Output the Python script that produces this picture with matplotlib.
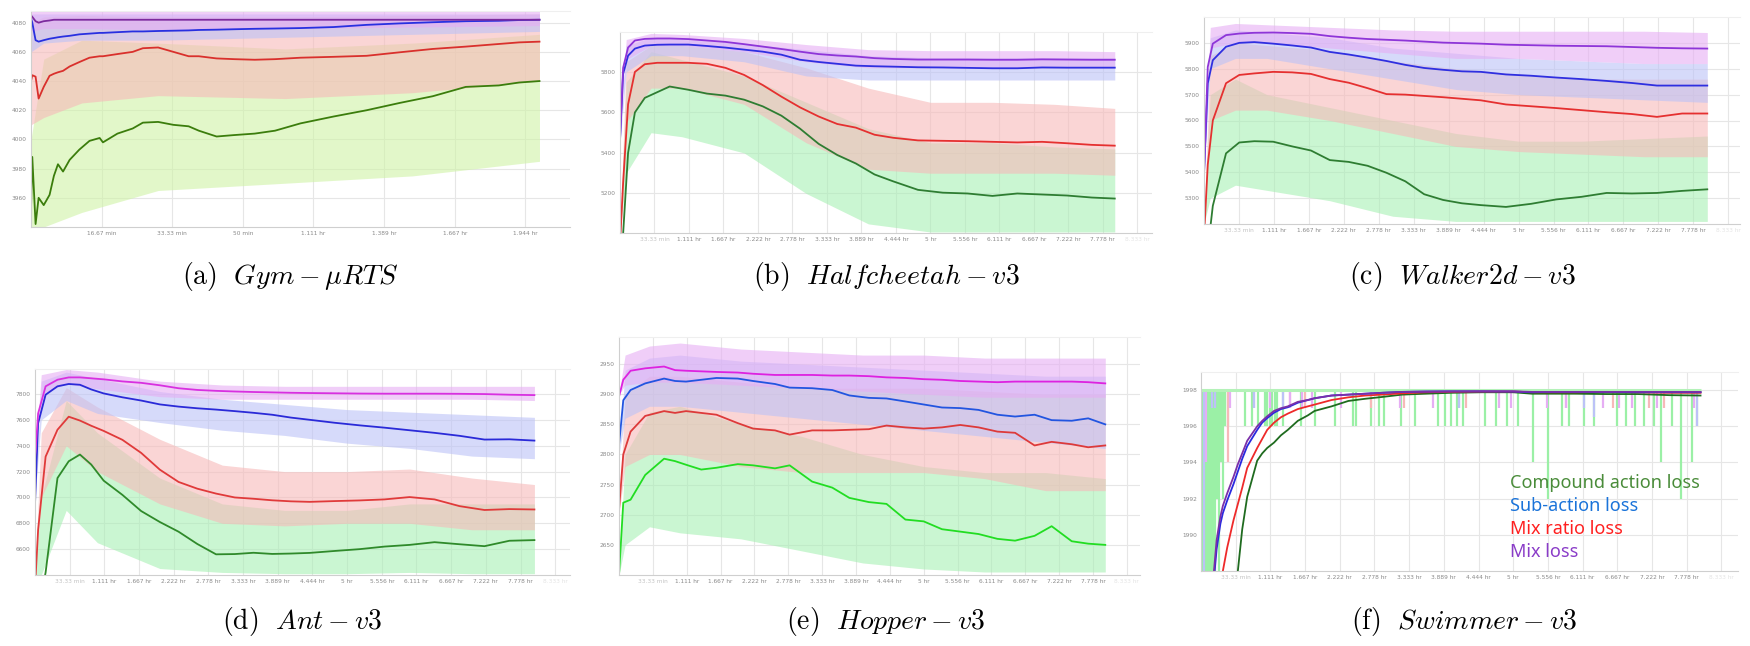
import matplotlib
matplotlib.use('Agg')
import matplotlib.pyplot as plt

plt.rcParams['mathtext.fontset'] = 'cm'
plt.rcParams['font.family'] = ['DejaVu Sans']

# ---------------- (a) Gym-muRTS ----------------
a_x = [0, 0.005, 0.018, 0.03, 0.05, 0.073, 0.09, 0.106, 0.126, 0.152, 0.19, 0.23, 0.27, 0.283, 0.34, 0.4, 0.44,
       0.5, 0.56, 0.62, 0.66, 0.73, 0.8, 0.88, 0.96, 1.06, 1.19, 1.32, 1.45, 1.58, 1.71, 1.84, 1.92, 2.0]
a_green = [3952, 3988, 3942, 3960, 3955, 3962, 3975, 3983, 3978, 3986, 3993, 3999, 4001, 3998, 4004, 4007.5, 4011.5,
           4012, 4010, 4009, 4006, 4002, 4003, 4004, 4006, 4011, 4015.7, 4020, 4025, 4029.6, 4036, 4037, 4039, 4040]
a_red = [4040, 4044, 4043, 4028, 4036, 4043.6, 4045, 4046, 4047, 4050, 4053, 4056, 4057, 4057, 4058.5, 4060, 4062.5,
         4063, 4060, 4057, 4057, 4055.5, 4055, 4054.6, 4055, 4056, 4056.6, 4057.3, 4059.7, 4062, 4063.6, 4065.4, 4066.5, 4067]
a_blue = [4083, 4080, 4068, 4067, 4068, 4069, 4069.5, 4070, 4070.5, 4071, 4072, 4072.5, 4073, 4073, 4073.5, 4074, 4074,
          4074.3, 4074.5, 4074.7, 4075, 4075.2, 4075.5, 4075.8, 4076, 4076.3, 4077, 4078.5, 4079.5, 4080.3, 4081, 4081.3, 4081.8, 4082]
a_purple = [4085, 4084, 4081, 4080, 4081, 4081.5, 4082, 4082, 4082, 4082, 4082, 4082, 4082, 4082, 4082, 4082, 4082,
            4082, 4082, 4082, 4082, 4082, 4082, 4082, 4082, 4082, 4082, 4082, 4082, 4082, 4082, 4082, 4082, 4082]
a_raw_x = [0, 0.05, 0.2, 0.5, 1.0, 1.5, 2.0]
a_green_hi = [4000, 4055, 4068, 4066, 4062, 4066, 4072]
a_green_lo = [3940, 3940, 3950, 3965, 3970, 3975, 3985]
a_red_hi = [4080, 4084, 4085, 4084, 4084, 4085, 4086]
a_red_lo = [4010, 4015, 4025, 4030, 4028, 4032, 4040]
a_blue_hi = [4086, 4086, 4086, 4086, 4086, 4086, 4086]
a_blue_lo = [4060, 4066, 4068, 4068, 4070, 4072, 4074]
a_purple_hi = [4088, 4088, 4088, 4088, 4088, 4088, 4088]
a_purple_lo = [4074, 4076, 4076, 4075, 4076, 4077, 4078]
a_xticks = [0.2778, 0.5556, 0.8333, 1.1111, 1.3889, 1.6667, 1.9444]
a_xlabels = ['16.67 min', '33.33 min', '50 min', '1.111 hr', '1.389 hr', '1.667 hr', '1.944 hr']
a_yticks = [3960, 3980, 4000, 4020, 4040, 4060, 4080]

# ---------------- (b) Halfcheetah-v3 ----------------
b_x = [0, 0.05, 0.13, 0.24, 0.4, 0.6, 0.8, 1.1, 1.4, 1.7, 2.0, 2.3, 2.6, 2.9, 3.2, 3.5, 3.8, 4.1, 4.4, 4.8,
       5.2, 5.6, 6.0, 6.4, 6.8, 7.2, 7.6, 7.97]
b_purple = [5470, 5820, 5920, 5955, 5963, 5965, 5965, 5962, 5955, 5948, 5937, 5925, 5913, 5900, 5888, 5881, 5876,
            5868, 5864, 5861, 5861, 5861, 5860, 5860, 5862, 5861, 5860, 5860]
b_blue = [5460, 5790, 5880, 5915, 5930, 5934, 5935, 5935, 5928, 5920, 5910, 5900, 5885, 5860, 5849, 5840, 5831,
          5828, 5826, 5823, 5822, 5820, 5818, 5818, 5822, 5821, 5821, 5821]
b_red = [4950, 5250, 5640, 5800, 5838, 5845, 5845, 5845, 5840, 5820, 5785, 5735, 5678, 5625, 5580, 5543, 5525,
         5490, 5475, 5462, 5460, 5458, 5455, 5452, 5455, 5448, 5440, 5436]
b_green = [4900, 5000, 5400, 5600, 5672, 5700, 5728, 5712, 5693, 5683, 5663, 5630, 5584, 5520, 5445, 5390, 5348,
           5294, 5260, 5218, 5204, 5200, 5188, 5200, 5195, 5190, 5180, 5175]
b_raw_x = [0, 0.1, 0.5, 1.0, 2.0, 3.0, 4.0, 5.0, 6.0, 7.0, 7.97]
b_green_hi = [5000, 5750, 5900, 5860, 5780, 5650, 5520, 5450, 5450, 5430, 5420]
b_green_lo = [5000, 5300, 5500, 5480, 5400, 5200, 5050, 5010, 5010, 5010, 5010]
b_red_hi = [5000, 5850, 5930, 5930, 5900, 5820, 5720, 5650, 5650, 5640, 5620]
b_red_lo = [5000, 5550, 5720, 5720, 5640, 5450, 5320, 5300, 5300, 5300, 5290]
b_blue_hi = [5450, 5930, 5970, 5960, 5940, 5910, 5880, 5870, 5870, 5870, 5870]
b_blue_lo = [5450, 5800, 5880, 5880, 5850, 5780, 5760, 5760, 5760, 5760, 5760]
b_purple_hi = [5500, 5960, 5990, 5985, 5965, 5935, 5910, 5905, 5905, 5905, 5900]
b_purple_lo = [5500, 5860, 5930, 5930, 5900, 5850, 5820, 5820, 5820, 5820, 5820]
b_yticks = [5200, 5400, 5600, 5800]

# ---------------- (c) Walker2d-v3 ----------------
c_x = [0, 0.06, 0.14, 0.35, 0.56, 0.8, 1.1, 1.4, 1.7, 2.0, 2.3, 2.6, 2.9, 3.2, 3.5, 3.8, 4.1, 4.4, 4.8, 5.2,
       5.6, 6.0, 6.4, 6.8, 7.2, 7.6, 8.0]
c_purple = [5390, 5807, 5897, 5930, 5936, 5939, 5940, 5938, 5935, 5926, 5920, 5915, 5912, 5909, 5905, 5901, 5899,
            5897, 5893, 5891, 5889, 5888, 5887, 5884, 5881, 5879, 5878]
c_blue = [5397, 5744, 5833, 5885, 5900, 5903, 5897, 5890, 5882, 5865, 5855, 5843, 5830, 5815, 5803, 5796, 5790,
          5788, 5778, 5773, 5766, 5760, 5753, 5745, 5735, 5735, 5735]
c_red = [5150, 5430, 5600, 5744, 5776, 5782, 5788, 5786, 5780, 5760, 5746, 5725, 5702, 5700, 5695, 5690, 5684,
         5678, 5662, 5655, 5648, 5640, 5632, 5625, 5614, 5627, 5627]
c_green = [5000, 5100, 5270, 5473, 5515, 5520, 5518, 5500, 5484, 5447, 5440, 5425, 5398, 5365, 5315, 5293, 5280,
           5273, 5266, 5278, 5295, 5305, 5320, 5318, 5320, 5328, 5334]
c_raw_x = [0, 0.1, 0.5, 1.0, 2.0, 3.0, 4.0, 5.0, 6.0, 7.0, 8.0]
c_green_hi = [5200, 5700, 5760, 5700, 5650, 5600, 5550, 5520, 5520, 5530, 5540]
c_green_lo = [5200, 5300, 5350, 5330, 5290, 5230, 5210, 5210, 5210, 5210, 5210]
c_red_hi = [5200, 5850, 5900, 5890, 5870, 5830, 5800, 5780, 5760, 5760, 5760]
c_red_lo = [5200, 5600, 5640, 5640, 5600, 5550, 5500, 5480, 5470, 5460, 5460]
c_blue_hi = [5400, 5920, 5950, 5940, 5920, 5880, 5860, 5840, 5830, 5820, 5820]
c_blue_lo = [5400, 5800, 5840, 5840, 5800, 5760, 5720, 5700, 5690, 5680, 5670]
c_purple_hi = [5400, 5960, 5975, 5970, 5960, 5950, 5945, 5945, 5945, 5945, 5940]
c_purple_lo = [5400, 5880, 5900, 5900, 5880, 5860, 5840, 5840, 5830, 5820, 5820]
c_yticks = [5300, 5400, 5500, 5600, 5700, 5800, 5900]

# ---------------- (d) Ant-v3 ----------------
d_x = [0, 0.05, 0.17, 0.36, 0.54, 0.72, 0.9, 1.1, 1.4, 1.7, 2.0, 2.3, 2.6, 2.9, 3.2, 3.5, 3.8, 4.1, 4.4, 4.8,
       5.2, 5.6, 6.0, 6.4, 6.8, 7.2, 7.6, 8.0]
d_purple = [7300, 7650, 7860, 7911, 7929, 7929, 7922, 7914, 7898, 7887, 7868, 7845, 7832, 7825, 7820, 7816, 7813,
            7810, 7808, 7806, 7804, 7803, 7803, 7803, 7802, 7800, 7795, 7792]
d_blue = [6950, 7575, 7795, 7860, 7878, 7872, 7836, 7805, 7775, 7750, 7720, 7703, 7690, 7680, 7668, 7655, 7640,
          7618, 7601, 7578, 7558, 7540, 7520, 7500, 7477, 7448, 7450, 7440]
d_red = [6300, 6750, 7316, 7524, 7625, 7595, 7555, 7515, 7446, 7345, 7215, 7120, 7068, 7030, 7000, 6990, 6978,
         6970, 6966, 6972, 6977, 6985, 7003, 6985, 6933, 6903, 6910, 6907]
d_green = [6000, 6100, 6420, 7150, 7280, 7332, 7255, 7130, 7020, 6895, 6810, 6735, 6640, 6560, 6562, 6572, 6563,
           6566, 6571, 6586, 6600, 6620, 6633, 6654, 6638, 6623, 6665, 6670]
d_raw_x = [0, 0.1, 0.5, 1.0, 2.0, 3.0, 4.0, 5.0, 6.0, 7.0, 8.0]
d_green_hi = [6400, 7000, 7750, 7500, 7150, 6950, 6900, 6900, 6950, 6950, 6950]
d_green_lo = [6400, 6400, 6900, 6650, 6450, 6420, 6410, 6410, 6420, 6410, 6410]
d_red_hi = [6400, 7500, 7850, 7700, 7450, 7250, 7200, 7200, 7220, 7150, 7100]
d_red_lo = [6400, 7000, 7400, 7200, 6950, 6800, 6780, 6800, 6800, 6750, 6750]
d_blue_hi = [7000, 7900, 7970, 7920, 7820, 7760, 7720, 7680, 7660, 7640, 7620]
d_blue_lo = [7000, 7600, 7750, 7650, 7580, 7520, 7480, 7420, 7380, 7320, 7300]
d_purple_hi = [7300, 7950, 7990, 7970, 7900, 7870, 7860, 7860, 7860, 7860, 7860]
d_purple_lo = [7300, 7800, 7880, 7840, 7780, 7760, 7760, 7760, 7760, 7760, 7750]
d_yticks = [6600, 6800, 7000, 7200, 7400, 7600, 7800]

# ---------------- (e) Hopper-v3 ----------------
e_x = [0, 0.07, 0.19, 0.43, 0.74, 0.92, 1.1, 1.35, 1.6, 1.95, 2.2, 2.56, 2.8, 3.17, 3.5, 3.78, 4.1, 4.39, 4.7, 5.0,
       5.3, 5.6, 5.9, 6.21, 6.5, 6.82, 7.1, 7.43, 7.7, 7.98]
e_purple = [2896, 2924, 2939, 2943, 2946, 2940, 2939, 2938, 2937, 2936, 2934, 2932, 2932, 2932, 2931, 2931, 2930,
            2928, 2927, 2925, 2924, 2922, 2921, 2920, 2921, 2921, 2921, 2921, 2920, 2918]
e_blue = [2815, 2890, 2907, 2918, 2926, 2922, 2921, 2924, 2927, 2926, 2922, 2917, 2911, 2910, 2907, 2898, 2894,
          2893, 2888, 2883, 2878, 2877, 2874, 2866, 2863, 2866, 2857, 2856, 2860, 2850]
e_red = [2708, 2800, 2838, 2864, 2872, 2869, 2872, 2869, 2866, 2852, 2843, 2840, 2833, 2840, 2840, 2841, 2842,
         2848, 2845, 2843, 2845, 2849, 2845, 2838, 2836, 2815, 2821, 2817, 2812, 2815]
e_green = [2600, 2720, 2725, 2766, 2793, 2789, 2783, 2775, 2778, 2784, 2782, 2777, 2782, 2755, 2745, 2728, 2721,
           2718, 2692, 2689, 2676, 2672, 2668, 2660, 2657, 2665, 2681, 2656, 2652, 2650]
e_raw_x = [0, 0.1, 0.5, 1.0, 2.0, 3.0, 4.0, 5.0, 6.0, 7.0, 7.98]
e_green_hi = [2600, 2800, 2870, 2880, 2850, 2830, 2800, 2780, 2770, 2770, 2760]
e_green_lo = [2600, 2650, 2680, 2670, 2660, 2640, 2620, 2610, 2605, 2605, 2605]
e_red_hi = [2700, 2900, 2930, 2930, 2920, 2910, 2910, 2910, 2905, 2900, 2900]
e_red_lo = [2700, 2780, 2800, 2800, 2780, 2770, 2770, 2770, 2760, 2740, 2740]
e_blue_hi = [2800, 2940, 2960, 2965, 2955, 2950, 2945, 2940, 2935, 2930, 2930]
e_blue_lo = [2800, 2860, 2880, 2880, 2870, 2860, 2850, 2840, 2830, 2820, 2810]
e_purple_hi = [2900, 2965, 2980, 2985, 2975, 2970, 2965, 2965, 2960, 2960, 2960]
e_purple_lo = [2900, 2915, 2920, 2920, 2915, 2910, 2905, 2900, 2895, 2895, 2895]
e_yticks = [2650, 2700, 2750, 2800, 2850, 2900, 2950]

# ---------------- (f) Swimmer-v3 ----------------
f_x = [0, 0.2, 0.25, 0.31, 0.35, 0.42, 0.52, 0.59, 0.66, 0.74, 0.9, 0.98, 1.06, 1.17, 1.28, 1.39, 1.55, 1.71,
       1.82, 2.09, 2.36, 2.63, 2.9, 3.22, 3.6, 4.0, 4.5, 5.0, 5.3, 5.6, 6.0, 6.5, 7.0, 7.5, 8.0]
f_purple = [1984, 1987.7, 1989.7, 1991.0, 1991.6, 1992.3, 1993.2, 1993.9, 1994.5, 1995.2, 1996.0, 1996.3, 1996.55,
            1996.85, 1997.0, 1997.1, 1997.35, 1997.45, 1997.55, 1997.7, 1997.75, 1997.8, 1997.85, 1997.9, 1997.92,
            1997.93, 1997.93, 1997.93, 1997.9, 1997.9, 1997.9, 1997.9, 1997.9, 1997.9, 1997.9]
f_blue = [1984, 1987.3, 1989.2, 1990.6, 1991.2, 1991.9, 1992.8, 1993.5, 1994.2, 1994.9, 1995.8, 1996.2, 1996.45,
          1996.75, 1996.95, 1997.05, 1997.3, 1997.45, 1997.55, 1997.7, 1997.75, 1997.8, 1997.85, 1997.9, 1997.92,
          1997.93, 1997.93, 1997.92, 1997.88, 1997.9, 1997.9, 1997.9, 1997.88, 1997.88, 1997.88]
f_red = [1980, 1985, 1986, 1987.2, 1988.0, 1989.3, 1990.8, 1991.7, 1992.6, 1993.7, 1994.8, 1995.3, 1995.8, 1996.2,
         1996.5, 1996.7, 1996.95, 1997.1, 1997.2, 1997.45, 1997.6, 1997.7, 1997.75, 1997.82, 1997.88, 1997.9,
         1997.92, 1997.92, 1997.88, 1997.88, 1997.88, 1997.9, 1997.88, 1997.85, 1997.85]
f_green = [1975, 1980, 1982, 1984, 1985, 1986, 1987.3, 1988.0, 1990.3, 1992.1, 1994.1, 1994.5, 1994.8, 1995.1,
           1995.5, 1995.8, 1996.3, 1996.6, 1996.85, 1997.1, 1997.4, 1997.52, 1997.62, 1997.75, 1997.8, 1997.85,
           1997.88, 1997.88, 1997.8, 1997.8, 1997.8, 1997.78, 1997.78, 1997.72, 1997.7]
f_raw_top = 1998
f_raw_end = 8.0
f_green_spike_x = [0.01, 0.04, 0.07, 0.10, 0.13, 0.16, 0.19, 0.22, 0.26, 0.29, 0.32, 0.35, 0.38, 0.43, 0.7, 0.82,
                   0.92, 1.02, 1.06, 1.1, 1.14, 1.18, 1.22, 1.32, 1.6, 1.83, 2.15, 2.43, 2.49, 2.72, 2.85, 2.93, 3.2,
                   3.43, 3.8, 3.9, 4.0, 4.1, 4.2, 4.55, 4.72, 4.9, 5.07, 5.32, 5.56, 5.78, 5.9, 6.13, 6.3, 6.67, 6.8,
                   6.95, 7.1, 7.25, 7.36, 7.55, 7.69, 7.86, 7.95]
f_green_spike_y = [1988, 1988, 1988, 1988, 1988, 1988, 1988, 1988, 1992, 1988, 1994, 1992, 1996, 1996, 1996, 1996,
                   1996, 1996, 1996, 1996, 1996, 1996, 1996, 1996, 1996, 1996, 1996, 1996, 1996, 1996, 1996, 1996,
                   1996, 1996, 1996, 1996, 1996, 1996, 1996, 1996, 1996, 1996, 1996, 1994, 1992, 1996, 1996, 1996,
                   1996, 1996, 1996, 1996, 1996, 1996, 1994, 1996, 1992, 1994, 1996]
f_purple_spike_x = [0.08, 0.47, 0.85, 1.11, 1.43, 1.61, 1.78, 2.25, 3.19, 3.72, 4.13, 4.78, 4.96, 5.54, 5.84, 6.43,
                    6.7, 6.9, 7.3, 7.9]
f_purple_spike_y = [1994, 1997, 1997, 1997, 1997, 1997, 1997, 1997, 1997, 1997, 1997, 1997, 1997, 1997, 1997, 1997,
                    1997, 1997, 1997, 1997]
f_blue_spike_x = [0.05, 0.17, 0.23, 0.85, 1.32, 4.13, 6.13, 6.3, 7.95]
f_blue_spike_y = [1988, 1997, 1997, 1997, 1997, 1997, 1997, 1996.5, 1996]
f_red_spike_x = [0.43, 1.43, 1.67, 2.72, 3.25, 4.25, 5.84, 6.6, 7.18, 7.42]
f_red_spike_y = [1994, 1997, 1997, 1997, 1997, 1997, 1997, 1997, 1997, 1997]
f_yticks = [1990, 1992, 1994, 1996, 1998]

long_xticks = [0.5556, 1.1111, 1.6667, 2.2222, 2.7778, 3.3333, 3.8889, 4.4444, 5.0, 5.5556, 6.1111, 6.6667,
               7.2222, 7.7778, 8.3333]
long_xlabels = ['33.33 min', '1.111 hr', '1.667 hr', '2.222 hr', '2.778 hr', '3.333 hr', '3.889 hr', '4.444 hr',
                '5 hr', '5.556 hr', '6.111 hr', '6.667 hr', '7.222 hr', '7.778 hr', '8.333 hr']

legend_labels = ['Compound action loss', 'Sub-action loss', 'Mix ratio loss', 'Mix loss']
legend_colors = ['#4a8c3a', '#1a73d9', '#ff2020', '#8a3cc8']

captions = [r'$\mathrm{(a)}\ \ Gym-\mu RTS$', r'$\mathrm{(b)}\ \ Halfcheetah-v3$', r'$\mathrm{(c)}\ \ Walker2d-v3$',
            r'$\mathrm{(d)}\ \ Ant-v3$', r'$\mathrm{(e)}\ \ Hopper-v3$', r'$\mathrm{(f)}\ \ Swimmer-v3$']

W, H = 1750, 646
fig = plt.figure(figsize=(17.5, 6.46), dpi=100)


def make_ax(l, r, t, b):
    return fig.add_axes([l / W, 1 - b / H, (r - l) / W, (b - t) / H])


def style(ax, xticks, xlabels, yticks, ylim, xmax, faint=True):
    ax.set_xlim(0, xmax)
    ax.set_ylim(*ylim)
    ax.set_xticks(xticks)
    ax.set_xticklabels(xlabels)
    ax.set_yticks(yticks)
    ax.set_yticklabels([str(v) for v in yticks])
    ax.tick_params(length=0, labelsize=4.2, labelcolor='#8a8a8a', pad=3)
    ax.grid(True, color='#e6e6e6', lw=0.8)
    ax.set_axisbelow(True)
    for s in ['right']:
        ax.spines[s].set_visible(False)
    ax.spines['top'].set_color('#efefef')
    ax.spines['left'].set_color('#cfcfcf')
    ax.spines['bottom'].set_color('#cfcfcf')
    if faint:
        labs = ax.get_xticklabels()
        labs[0].set_color('#c4c4c4')
        labs[-1].set_color('#e4e4e4')


def bands(ax, rx, bands_list):
    for lo, hi, col in bands_list:
        ax.fill_between(rx, lo, hi, color=col, alpha=0.6, lw=0)


def lines(ax, x, series):
    for y, col in series:
        ax.plot(x, y, color=col, lw=1.3)


raw_green = '#a8f0b4'
raw_red = '#f7b9b9'
raw_blue = '#bcc2f7'
raw_purple = '#e6aef4'

# (a)
ax = make_ax(31, 570, 11, 227)
bands(ax, a_raw_x, [(a_green_lo, a_green_hi, '#cff3a6'), (a_red_lo, a_red_hi, raw_red),
                    (a_blue_lo, a_blue_hi, raw_blue), (a_purple_lo, a_purple_hi, raw_purple)])
lines(ax, a_x, [(a_green, '#3b7d0c'), (a_red, '#d9302c'), (a_blue, '#2830e0'), (a_purple, '#7d2a9e')])
style(ax, a_xticks, a_xlabels, a_yticks, (3940, 4088), 2.12, faint=False)

# (b)
ax = make_ax(620, 1152, 32, 233)
bands(ax, b_raw_x, [(b_green_lo, b_green_hi, raw_green), (b_red_lo, b_red_hi, raw_red),
                    (b_blue_lo, b_blue_hi, raw_blue), (b_purple_lo, b_purple_hi, raw_purple)])
lines(ax, b_x, [(b_green, '#2e7d32'), (b_red, '#e53030'), (b_blue, '#2f2fe0'), (b_purple, '#8e35d8')])
style(ax, long_xticks, long_xlabels, b_yticks, (5005, 5997), 8.57)

# (c)
ax = make_ax(1204, 1740, 17, 224)
bands(ax, c_raw_x, [(c_green_lo, c_green_hi, raw_green), (c_red_lo, c_red_hi, raw_red),
                    (c_blue_lo, c_blue_hi, raw_blue), (c_purple_lo, c_purple_hi, raw_purple)])
lines(ax, c_x, [(c_green, '#2e7d32'), (c_red, '#e53030'), (c_blue, '#2f2fe0'), (c_purple, '#8e35d8')])
style(ax, long_xticks, long_xlabels, c_yticks, (5200, 6000), 8.52)

# (d)
ax = make_ax(35, 570, 369, 575)
bands(ax, d_raw_x, [(d_green_lo, d_green_hi, raw_green), (d_red_lo, d_red_hi, raw_red),
                    (d_blue_lo, d_blue_hi, raw_blue), (d_purple_lo, d_purple_hi, raw_purple)])
lines(ax, d_x, [(d_green, '#2f8a2a'), (d_red, '#e03a3a'), (d_blue, '#2a2ad8'), (d_purple, '#d830e0')])
style(ax, long_xticks, long_xlabels, d_yticks, (6400, 7994), 8.57)

# (e)
ax = make_ax(619, 1140, 337, 575)
bands(ax, e_raw_x, [(e_green_lo, e_green_hi, raw_green), (e_red_lo, e_red_hi, raw_red),
                    (e_blue_lo, e_blue_hi, raw_blue), (e_purple_lo, e_purple_hi, raw_purple)])
lines(ax, e_x, [(e_green, '#22dd22'), (e_red, '#dd3a3a'), (e_blue, '#2255e0'), (e_purple, '#dd22e0')])
style(ax, long_xticks, long_xlabels, e_yticks, (2600, 2995), 8.55)

# (f)
ax = make_ax(1201, 1738, 372, 571)
ax.vlines(f_green_spike_x, f_green_spike_y, f_raw_top, color='#9bf0a6', lw=1.6)
ax.vlines(f_red_spike_x, f_red_spike_y, f_raw_top, color=raw_red, lw=1.6)
ax.vlines(f_purple_spike_x, f_purple_spike_y, f_raw_top, color=raw_purple, lw=1.6)
ax.vlines(f_blue_spike_x, f_blue_spike_y, f_raw_top, color=raw_blue, lw=1.6)
ax.hlines(f_raw_top, 0, f_raw_end, color='#b4f2b8', lw=2.2)
lines(ax, f_x, [(f_green, '#1f6b1f'), (f_red, '#ee2a2a'), (f_blue, '#2a2ae0'), (f_purple, '#7b2fa8')])
style(ax, long_xticks, long_xlabels, f_yticks, (1988, 1999), 8.6)

for i, (lab, col) in enumerate(zip(legend_labels, legend_colors)):
    fig.text(1510 / W, 1 - (483 + 23 * i) / H, lab, color=col, fontsize=13, family='Noto Sans', va='center')

cap_pos = [(290, 276), (886, 276), (1462, 276), (302, 622), (886, 622), (1464, 622)]
for cap, (cx, cy) in zip(captions, cap_pos):
    fig.text(cx / W, 1 - cy / H, cap, fontsize=20, ha='center', va='center')

fig.savefig('out.png', dpi=100)
